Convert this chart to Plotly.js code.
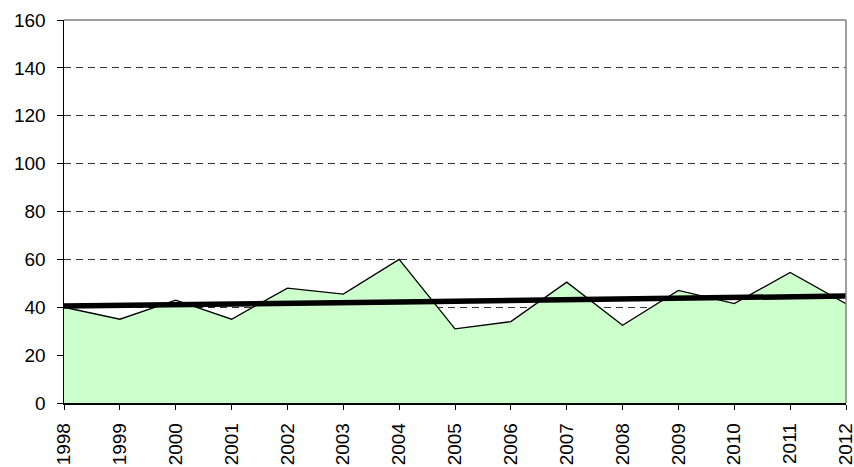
<!DOCTYPE html>
<html>
<head>
<meta charset="utf-8">
<script src="https://cdn.plot.ly/plotly-3.0.1.min.js"></script>
<style>
  html, body { margin: 0; padding: 0; background: #fff; }
  #chart { width: 854px; height: 467px; }
</style>
</head>
<body>
<div id="chart"></div>
<script>
var years = [1998, 1999, 2000, 2001, 2002, 2003, 2004, 2005, 2006, 2007, 2008, 2009, 2010, 2011, 2012];
var values = [40, 35, 43, 35, 48, 45.5, 60, 31, 34, 50.5, 32.5, 47, 41.5, 54.5, 41.5];
var trend = [40.5, 40.7, 41, 41.3, 41.6, 41.9, 42.2, 42.5, 42.8, 43.1, 43.5, 43.8, 44.1, 44.4, 44.7];
var yTicks = [0, 20, 40, 60, 80, 100, 120, 140, 160];

var trace1 = {
    x: years,
    y: values,
    type: 'scatter',
    mode: 'lines',
    fill: 'tozeroy',
    fillcolor: '#CCFFCC',
    line: { color: '#000000', width: 1.3 },
    hoverinfo: 'x+y'
};
var trace2 = {
    x: years,
    y: trend,
    type: 'scatter',
    mode: 'lines',
    line: { color: '#000000', width: 5.5 },
    hoverinfo: 'x+y'
};

var layout = {
    width: 854,
    height: 467,
    margin: { t: 20, l: 64, r: 8, b: 64, pad: 0 },
    paper_bgcolor: '#ffffff',
    plot_bgcolor: '#ffffff',
    showlegend: false,
    font: { family: '"Liberation Sans", Arial, sans-serif', size: 19, color: '#000000' },
    xaxis: {
        range: [1998, 2012],
        tickvals: years,
        ticktext: years.map(String),
        tickangle: -90,
        ticklabeloverflow: 'allow',
        ticklabelstandoff: 6,
        showgrid: false,
        zeroline: false,
        showline: true,
        linecolor: '#000000',
        linewidth: 1.5,
        ticks: 'outside',
        ticklen: 5,
        tickcolor: '#000000',
        tickfont: { size: 19 }
    },
    yaxis: {
        range: [0, 160],
        tickvals: yTicks,
        showgrid: true,
        gridcolor: '#333333',
        gridwidth: 1,
        griddash: '7px,5px',
        zeroline: false,
        showline: true,
        linecolor: '#000000',
        linewidth: 1.5,
        ticks: 'outside',
        ticklen: 6,
        tickcolor: '#000000',
        ticklabeloverflow: 'allow',
        ticklabelstandoff: 7,
        tickfont: { size: 19 }
    },
    shapes: [
        { type: 'line', xref: 'paper', yref: 'paper', x0: 0, x1: 1, y0: 1, y1: 1,
          line: { color: '#808080', width: 1.5 } },
        { type: 'line', xref: 'paper', yref: 'paper', x0: 1, x1: 1, y0: 0, y1: 1,
          line: { color: '#808080', width: 1.5 } }
    ]
};

Plotly.newPlot('chart', [trace1, trace2], layout, {displayModeBar: false, staticPlot: true});
</script>
</body>
</html>
